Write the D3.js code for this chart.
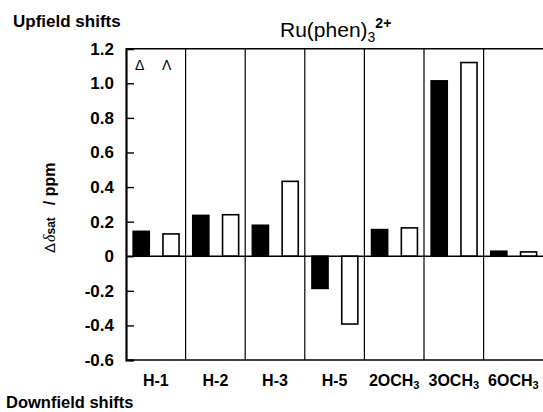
<!DOCTYPE html>
<html><head><meta charset="utf-8">
<script src="https://cdn.jsdelivr.net/npm/d3@7"></script>
<style>body{margin:0;background:#fff}svg{display:block}text{font-family:"Liberation Sans",Arial,sans-serif}</style>
</head><body><svg id="c" width="543" height="412"></svg>
<script>
const categories = ["H-1","H-2","H-3","H-5","2OCH3","3OCH3","6OCH3"];
const deltaValues = [0.144, 0.236, 0.179, -0.186, 0.154, 1.014, 0.029];
const lambdaValues = [0.129, 0.240, 0.433, -0.392, 0.164, 1.120, 0.025];
const yTicks = [1.2, 1.0, 0.8, 0.6, 0.4, 0.2, 0, -0.2, -0.4, -0.6];

const svg = d3.select("#c");
const L = 126, R = 543, T = 48.7, B = 360;
const x = d3.scaleBand().domain(categories).range([L, L + 59.6 * 7]);
const y = d3.scaleLinear().domain([-0.6, 1.2]).range([B, T]);
const bw = x.bandwidth();

// dividers
svg.selectAll("line.div").data(categories.slice(1)).join("line")
  .attr("x1", d => x(d)).attr("x2", d => x(d)).attr("y1", T).attr("y2", B)
  .attr("stroke", "#000").attr("stroke-width", 1.2);

// bars
function bars(vals, off, fill) {
  svg.selectAll(null).data(vals).join("rect")
    .attr("x", (d, i) => x(categories[i]) + off * bw)
    .attr("width", bw * 0.27)
    .attr("y", d => Math.min(y(d), y(0)))
    .attr("height", d => Math.abs(y(d) - y(0)))
    .attr("fill", fill).attr("stroke", "#000").attr("stroke-width", 1.6);
}
bars(deltaValues, 0.12, "#000");
bars(lambdaValues, 0.62, "#fff");

// zero line, top, bottom
svg.append("line").attr("x1", L).attr("x2", R).attr("y1", y(0)).attr("y2", y(0)).attr("stroke", "#000").attr("stroke-width", 1.6);
svg.append("line").attr("x1", L).attr("x2", R).attr("y1", T).attr("y2", T).attr("stroke", "#000").attr("stroke-width", 1.6);
svg.append("line").attr("x1", L).attr("x2", R).attr("y1", B).attr("y2", B).attr("stroke", "#000").attr("stroke-width", 1.6);

// y axis
const yAxis = d3.axisLeft(y).tickValues(yTicks).tickSize(-8).tickPadding(12)
  .tickFormat(d => d === 0 ? "0" : d3.format(".1f")(d).replace("−", "-"));
const ga = svg.append("g").attr("transform", `translate(${L},0)`).call(yAxis);
ga.select(".domain").attr("stroke-width", 2.2);
ga.selectAll(".tick line").attr("stroke-width", 1.4);
ga.selectAll(".tick text").attr("font-size", 17).attr("font-weight", "bold")
  .attr("font-family", "Liberation Sans, Arial, sans-serif").attr("fill", "#000");

// x labels
const xl = svg.selectAll("text.xl").data(categories).join("text")
  .attr("x", d => x(d) + bw / 2).attr("y", 386).attr("text-anchor", "middle")
  .attr("font-size", 16).attr("font-weight", "bold");
xl.each(function(d) {
  const t = d3.select(this);
  const m = d.match(/^(.*CH)3$/);
  if (m) { t.append("tspan").text(m[1]); t.append("tspan").attr("font-size", 11).attr("dy", 3).text("3"); }
  else t.text(d);
});

// legend
svg.append("text").attr("x", 135).attr("y", 70).attr("font-family", "Liberation Serif, Times New Roman, serif")
  .attr("font-size", 14).text("Δ");
svg.append("text").attr("x", 162).attr("y", 70).attr("font-family", "Liberation Serif, Times New Roman, serif")
  .attr("font-size", 14).text("Λ");

// title
const tt = svg.append("text").attr("x", 280).attr("y", 37).attr("font-size", 21);
tt.append("tspan").text("Ru(phen)");
tt.append("tspan").attr("font-size", 14).attr("dy", 5).text("3");
tt.append("tspan").attr("font-size", 14).attr("font-weight", "bold").attr("dy", -14).text("2+");

svg.append("text").attr("x", 13).attr("y", 27).attr("font-size", 17).attr("font-weight", "bold").text("Upfield shifts");
svg.append("text").attr("x", 6).attr("y", 408).attr("font-size", 16.5).attr("font-weight", "bold").text("Downfield shifts");

// y label
const yl = svg.append("text").attr("transform", "translate(55,253) rotate(-90)").attr("text-anchor", "start");
yl.append("tspan").attr("font-size", 15).text("Δ");
yl.append("tspan").attr("font-size", 16).attr("font-family", "Liberation Serif, serif").attr("font-style", "italic").attr("dx", 1).text("δ");
yl.append("tspan").attr("font-size", 12).attr("font-weight", "bold").text("sat");
yl.append("tspan").attr("font-size", 16).attr("font-weight", "bold").attr("dx", 12).text("/ ppm");
</script></body></html>
